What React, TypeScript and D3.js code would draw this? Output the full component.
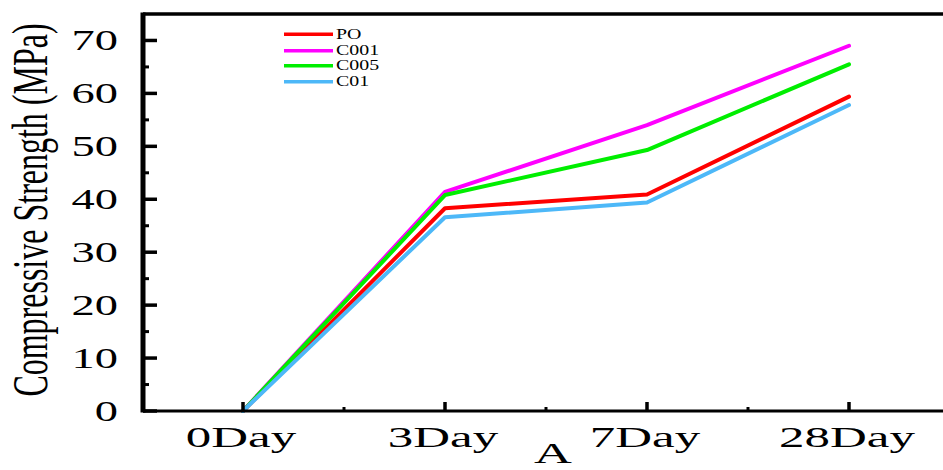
import React from "react";
import * as d3 from "d3";

const categories = ["0Day", "3Day", "7Day", "28Day"];
const seriesNames = ["PO", "C001", "C005", "C01"];
const poValues = [0, 38.3, 40.9, 59.4];
const c001Values = [0, 41.4, 54.0, 69.0];
const c005Values = [0, 40.8, 49.3, 65.5];
const c01Values = [0, 36.6, 39.4, 57.8];
const seriesColors = ["#ff0000", "#ff00ff", "#00ee00", "#4db8f8"];
const yTicks = [0, 10, 20, 30, 40, 50, 60, 70];
const yMinorTicks = [5, 15, 25, 35, 45, 55, 65];
const xMinorTicks = [0.5, 1.5, 2.5];

const W = 943;
const H = 470;
const FONT = "'Liberation Serif', 'Times New Roman', serif";

export default function App() {
  const allValues = [poValues, c001Values, c005Values, c01Values];
  const x = d3.scaleLinear().domain([-0.5, 3.5]).range([142, 950]);
  const y = d3.scaleLinear().domain([0, 75]).range([411, 14]);
  const line = d3
    .line<number>()
    .x((_, i) => x(i))
    .y((d) => y(d));

  const axisLeft = 143;
  const axisBottom = y(0);
  const axisTop = y(75);

  return (
    <svg
      width={W}
      height={H}
      style={{ position: "absolute", left: 0, top: 0, background: "#fff" }}
    >
      <rect x={0} y={0} width={W} height={H} fill="#fff" />
      {allValues.map((vals, k) => (
        <path
          key={seriesNames[k]}
          d={line(vals) || ""}
          fill="none"
          stroke={seriesColors[k]}
          strokeWidth={4}
          strokeLinejoin="round"
          strokeLinecap="round"
        />
      ))}
      <line x1={axisLeft} x2={W + 5} y1={axisTop} y2={axisTop} stroke="#000" strokeWidth={3.5} />
      <line x1={axisLeft} x2={W + 5} y1={axisBottom} y2={axisBottom} stroke="#000" strokeWidth={3} />
      <line x1={axisLeft} x2={axisLeft} y1={axisTop - 1.5} y2={axisBottom + 1.5} stroke="#000" strokeWidth={5} />
      {yTicks.map((t) => (
        <g key={"yt" + t}>
          <line x1={axisLeft} x2={axisLeft + 14} y1={y(t)} y2={y(t)} stroke="#000" strokeWidth={3.5} />
          <text
            transform={`translate(118, ${y(t) + 10}) scale(1.55, 1)`}
            textAnchor="end"
            fontFamily={FONT}
            fontSize={30}
            fill="#000"
          >
            {t}
          </text>
        </g>
      ))}
      {yMinorTicks.map((t) => (
        <line key={"ym" + t} x1={axisLeft} x2={axisLeft + 6} y1={y(t)} y2={y(t)} stroke="#000" strokeWidth={3} />
      ))}
      {categories.map((c, i) => (
        <g key={c}>
          <line x1={x(i)} x2={x(i)} y1={axisBottom} y2={axisBottom - 9} stroke="#000" strokeWidth={3.5} />
          <text
            transform={`translate(${x(i) - 2}, 447) scale(1.7, 1)`}
            textAnchor="middle"
            fontFamily={FONT}
            fontSize={30}
            fill="#000"
          >
            {c}
          </text>
        </g>
      ))}
      {xMinorTicks.map((t) => (
        <line key={"xm" + t} x1={x(t)} x2={x(t)} y1={axisBottom} y2={axisBottom - 4} stroke="#000" strokeWidth={3} />
      ))}
      <text
        transform={`translate(47, 210) scale(1.6, 1) rotate(-90)`}
        textAnchor="middle"
        fontFamily={FONT}
        fontSize={32}
        fill="#000"
      >
        Compressive Strength (MPa)
      </text>
      <text
        transform={`translate(553, 463) scale(1.75, 1)`}
        textAnchor="middle"
        fontFamily={FONT}
        fontSize={30}
        fill="#000"
      >
        A
      </text>
      {seriesNames.map((n, k) => {
        const ly = [34.3, 50.7, 65.7, 81.7][k];
        return (
          <g key={"lg" + n}>
            <line x1={284} x2={333} y1={ly} y2={ly} stroke={seriesColors[k]} strokeWidth={3.5} />
            <text
              transform={`translate(336, ${ly + 4.5}) scale(1.42, 1)`}
              fontFamily={FONT}
              fontSize={14}
              fill="#000"
            >
              {n}
            </text>
          </g>
        );
      })}
    </svg>
  );
}
